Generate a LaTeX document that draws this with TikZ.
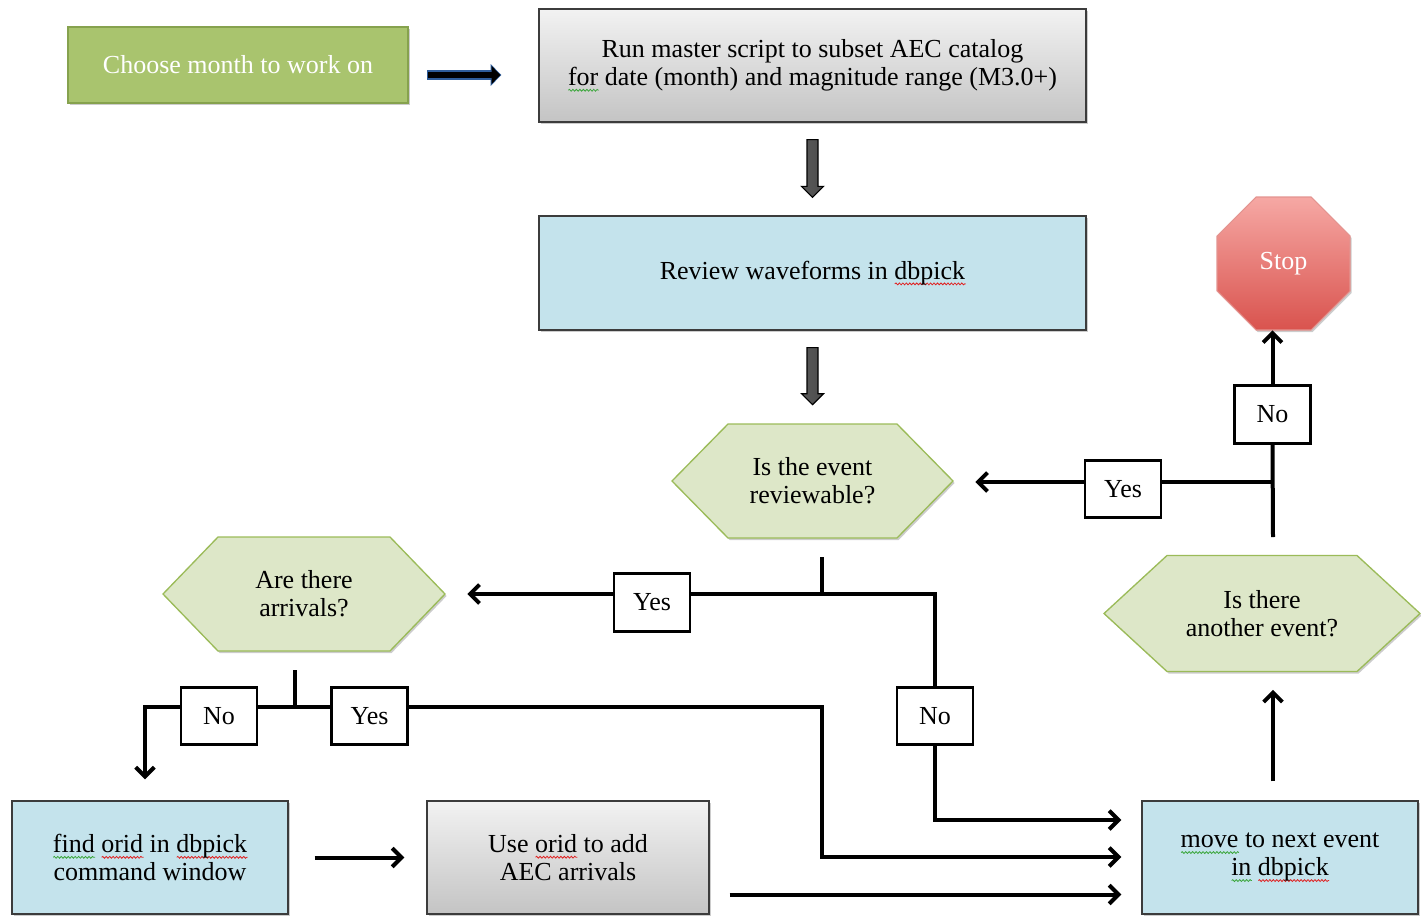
\documentclass[tikz,border=0pt]{standalone}
\usepackage{fontspec}
\setmainfont{Liberation Serif}
\usetikzlibrary{arrows.meta,calc,shadows,decorations.pathmorphing}

\definecolor{greenfill}{HTML}{A9C46E}
\definecolor{greenline}{HTML}{86A24E}
\definecolor{bluefill}{HTML}{C4E3EC}
\definecolor{boxline}{HTML}{3C3C3C}
\definecolor{graytop}{HTML}{F2F2F2}
\definecolor{graybot}{HTML}{C4C4C4}
\definecolor{hexfill}{HTML}{DDE7C8}
\definecolor{hexline}{HTML}{9BBB59}
\definecolor{stoptop}{HTML}{F6A8A4}
\definecolor{stopbot}{HTML}{D9534E}
\definecolor{stopline}{HTML}{E39490}
\definecolor{spellred}{HTML}{E02020}
\definecolor{spellgreen}{HTML}{3AA63A}
\definecolor{arrowedge}{HTML}{2E5C99}

% wavy spelling marks under single words
\newlength\wordwd
\newcommand\wavemark[2]{\settowidth\wordwd{#2}%
  \rlap{\tikz[baseline=0pt,x=1pt,y=1pt]\draw[#1,line width=0.6pt,decorate,
    decoration={snake,amplitude=0.7pt,segment length=2.6pt}] (0,-3.6) -- (\wordwd,-3.6);}#2}
\newcommand\redwave[1]{\wavemark{spellred}{#1}}
\newcommand\greenwave[1]{\wavemark{spellgreen}{#1}}

\tikzset{
  softshadow/.style={drop shadow={shadow xshift=1.2pt,shadow yshift=-1.5pt,opacity=0.2,fill=black}},
  procbox/.style={draw=boxline,line width=1pt,align=center,inner sep=0pt,softshadow},
  bluebox/.style={procbox,fill=bluefill},
  graybox/.style={procbox,top color=graytop,bottom color=graybot},
  startbox/.style={draw=greenline,line width=2pt,fill=greenfill,text=white,align=center,inner sep=0pt,softshadow},
  decision/.style={align=center,inner sep=0pt},
  hexfig/.style={fill=hexfill,draw=hexline,line width=1pt,softshadow},
  stopfig/.style={top color=stoptop,bottom color=stopbot,draw=stopline,line width=0.8pt,softshadow},
  answer/.style={draw=black,fill=white,line width=2.2pt,minimum width=57pt,minimum height=43pt,inner sep=0pt},
  flow/.style={draw=black,line width=3pt},
  arrowflow/.style={flow,-{Straight Barb[length=7pt,width=14pt]}},
  blockarrow/.style={draw=black,line width=0.8pt,left color=black!65,middle color=gray!25,right color=black!70},
}

% hexagon: centre x, centre y, half width, half height, corner inset
\newcommand\hexagonat[5]{%
  \path[hexfig] ({#1-#3},#2) -- ({#1-#3+#5},{#2-#4}) -- ({#1+#3-#5},{#2-#4})
    -- ({#1+#3},#2) -- ({#1+#3-#5},{#2+#4}) -- ({#1-#3+#5},{#2+#4}) -- cycle;}

\begin{document}
\begin{tikzpicture}[x=0.75pt,y=-0.75pt,font=\fontsize{19.5}{21}\selectfont]
\useasboundingbox (0,0) rectangle (1421,921);

% process boxes
\node[startbox,minimum width=255pt,minimum height=57pt] (choose) at (238,65) {Choose month to work on};
\node[graybox,minimum width=410.25pt,minimum height=84.75pt] (run) at (812.5,65.5)
  {Run master script to subset AEC catalog\\\greenwave{for} date (month) and magnitude range (M3.0+)};
\node[bluebox,minimum width=410.25pt,minimum height=85.5pt] (review) at (812.5,273)
  {Review waveforms in \redwave{dbpick}};
\node[bluebox,minimum width=207pt,minimum height=84.75pt] (find) at (150,857.5)
  {\greenwave{find} \redwave{orid} in \redwave{dbpick}\\command window};
\node[graybox,minimum width=211.5pt,minimum height=84.75pt] (use) at (568,857.5)
  {Use \redwave{orid} to add\\AEC arrivals};
\node[bluebox,minimum width=207pt,minimum height=84.75pt] (move) at (1280,857.5)
  {\greenwave{move} to next event\\\greenwave{in} \redwave{dbpick}};

% decisions
\hexagonat{812.5}{481}{140.5}{57}{56}
\node[decision,minimum width=210.75pt,minimum height=85.5pt] (rev) at (812.5,481) {Is the event\\reviewable?};
\hexagonat{1262}{613.5}{158}{58}{63}
\node[decision,minimum width=237pt,minimum height=87pt] (another) at (1262,613.5) {Is there\\another event?};
\hexagonat{304}{594}{141}{57}{55}
\node[decision,minimum width=211.5pt,minimum height=85.5pt] (arr) at (304,594) {Are there\\arrivals?};

% stop sign
\path[stopfig] (1217,236) -- (1256,197) -- (1311,197) -- (1350,236) -- (1350,291)
  -- (1311,330) -- (1256,330) -- (1217,291) -- cycle;
\node[text=white,minimum width=99.75pt,minimum height=99.75pt,inner sep=0pt] (stop) at (1283.5,263.5) {Stop};

% answer labels
\node[answer] (yes1) at (1123,489) {Yes};
\node[answer] (no1) at (1272.5,414.5) {No};
\node[answer] (yes2) at (652,602.5) {Yes};
\node[answer] (no2) at (935,716) {No};
\node[answer] (no3) at (219,716) {No};
\node[answer] (yes3) at (369.5,716) {Yes};

% junctions
\coordinate (j1) at (1273,482);
\coordinate (j1low) at (1273,537);
\coordinate (j2top) at (822,557);
\coordinate (j2) at (822,594);
\coordinate (j3) at (935,594);
\coordinate (j4top) at (295,670);
\coordinate (j4) at (295,707);
\coordinate (j5) at (145,707);
\coordinate (j6) at (822,707);
\coordinate (j7) at (822,857);
\coordinate (j8) at (935,820);

% start arrow
\draw[arrowedge,line width=7pt,shorten <=13.5pt,shorten >=27.75pt,-{Triangle[length=8pt,width=16pt]}]
  ([shift={(0,10)}]choose.east) -- ([shift={(0,10)}]choose.east -| run.west);
\draw[black,line width=5pt,shorten <=14pt,shorten >=28.5pt,-{Triangle[length=6.5pt,width=13pt]}]
  ([shift={(0,10)}]choose.east) -- ([shift={(0,10)}]choose.east -| run.west);

% block arrows down the main column
\path[blockarrow] ([shift={(-5.5,17)}]run.south) -- ([shift={(5.5,17)}]run.south)
  -- ([shift={(5.5,-29)}]review.north) -- ([shift={(11,-29)}]review.north)
  -- ([shift={(0,-18)}]review.north) -- ([shift={(-11,-29)}]review.north)
  -- ([shift={(-5.5,-29)}]review.north) -- cycle;
\path[blockarrow] ([shift={(-5.5,17)}]review.south) -- ([shift={(5.5,17)}]review.south)
  -- ([shift={(5.5,-30)}]rev.north) -- ([shift={(11,-30)}]rev.north)
  -- ([shift={(0,-19)}]rev.north) -- ([shift={(-11,-30)}]rev.north)
  -- ([shift={(-5.5,-30)}]rev.north) -- cycle;

% loop back / stop
\draw[flow] (j1low) -- (no1.south);
\draw[arrowflow] (no1.north) -- (no1.north |- stop.south);
\draw[flow] (yes1.east |- j1) -- (j1);
\draw[arrowflow,shorten >=16.5pt] (yes1.west |- j1) -- (rev.east |- j1);

% reviewable?
\draw[flow] (j2top) -- (j2);
\draw[flow] (yes2.east |- j2) -- (j3) -- (no2.north);
\draw[arrowflow,shorten >=16.5pt] (yes2.west |- j2) -- (arr.east |- j2);
\draw[arrowflow,shorten >=15pt] (no2.south) -- (j8) -- (move.west |- j8);

% arrivals?
\draw[flow] (j4top) -- (j4);
\draw[flow] (no3.east |- j4) -- (yes3.west |- j4);
\draw[arrowflow,shorten >=15.75pt] (no3.west |- j4) -- (j5) -- (j5 |- find.north);
\draw[arrowflow,shorten >=15pt] (yes3.east |- j4) -- (j6) -- (j7) -- (move.west |- j7);

% bottom row
\draw[arrowflow,shorten <=19.5pt,shorten >=16.5pt] (find.east) -- (use.west);
\draw[arrowflow,shorten <=15pt,shorten >=15pt] ([shift={(0,37)}]use.east) -- ([shift={(0,37)}]move.west);
\draw[arrowflow,shorten >=13.5pt] ([shift={(-7,-19)}]move.north) -- ([shift={(11,0)}]another.south);
\end{tikzpicture}
\end{document}
